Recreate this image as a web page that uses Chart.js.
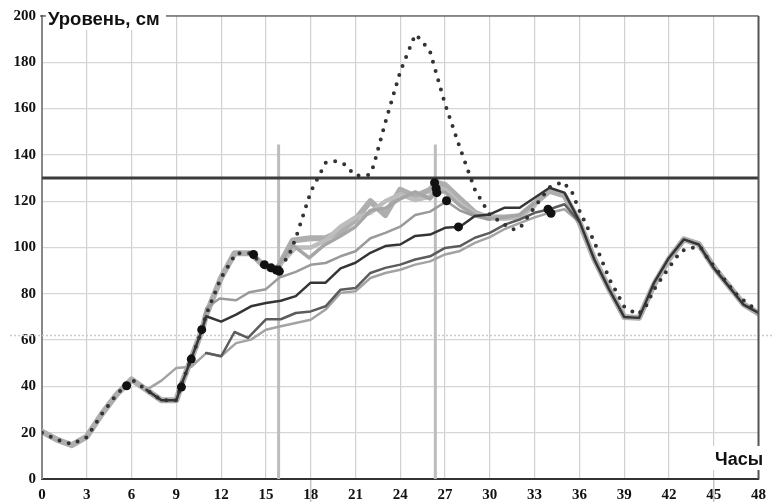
<!DOCTYPE html>
<html><head><meta charset="utf-8">
<script src="https://cdn.jsdelivr.net/npm/chart.js@4.4.0/dist/chart.umd.min.js"></script>
<style>html,body{margin:0;padding:0;background:#fff;}#wrap{width:773px;height:502px;}</style>
</head><body><div id="wrap"><canvas id="c" width="773" height="502"></canvas></div>
<script>
// ---- tick labels ----
const xTickValues = [0,3,6,9,12,15,18,21,24,27,30,33,36,39,42,45,48];
const yTickValues = [0,20,40,60,80,100,120,140,160,180,200];
const titleText = 'Уровень, см';
const xAxisText = 'Часы';

// ---- reference levels ----
const dangerLevel = 130;
const dashedLevel = 62.2;
const refHours = [15.85, 26.35];
const refTop = 144.5;
const dayMarkHours = [18, 45];

// ---- dotted forecast ----
const dotHours  = [0,1,2,3,4,5,6,7,8,9,9.3,10,10.7,11,12,13,14,15,15.7,16.5,17,18,19,19.6,20.2,21,21.9,22.2,23,24,25,25.4,26,27,28,29,30,31.5,32,33,34,34.9,35.5,36,37,38,39,39.9,40.4,41,41.9,42.8,43.4,44.1,44.5,45.5,46.5,47.2,48];
const dotLevels = [20,17,15,18,28,36.5,43,38.5,34,34,40,52,64,71,87,97.5,97.5,91,90,96,104,124,136.6,137.3,136.3,131,131.3,135,154,176,192,189.6,184.5,162,143,125,114,107.8,108.2,117.5,126,128.4,124,116,102.5,86.5,74.5,71,73.9,81.8,90.4,98.4,99.8,100.3,96.2,87.9,79.9,76.1,72.5];

// ---- thick light observed/forecast line ----
const thickHours  = [0,1,2,3,4,5,6,7,8,9,9.3,10,10.7,11,12,12.9,14,14.7,15.2,15.7,16.8,18,19,20,21,22,23,24,25,26,26.4,27,28,29,29.8,31,32,33,34,35,36,37,38,39,40,41,42,43,44,45,46,47,48];
const thickLevels = [20.5,17,14.6,18.3,28,36.5,43,38.5,34,34,40,52,64,71,87,97.5,97.5,93,91,90,103,104,104,107,112,120,114,125,122,125,128,127,121,115,113,113,113.5,119,124.5,122.5,111,95,82,70,69.6,84,95,103.5,101.5,91.5,83.5,75.5,71.5];

// ---- light fan lines ----
const bHours  = [15.7,16.8,17.9,18.9,20,21,22,23,24,25,26,26.4,27,28,29,30,31,32,33];
const bLevels = [91,101,95.5,101,105,109,116,117,121,124,121,124,124,118,114,112.5,113,114,119];
const cHours  = [15.7,17,18,19,20,21,22,23,24,25,26,26.4,27,28,29,30,31,32,33];
const cLevels = [91,100,100,103,109,113,115,120,123,120.5,122,126,125,119,114.5,113,112.5,113,118];
const lg2Hours  = [10.7,11,11.9,13,13.9,15,15.9,17,18,19,20,21,22,23,24,25,26,27.1,28,29,30];
const lg2Levels = [64,73.8,78,77.2,80.7,82,87,89.5,92.5,93.3,96.2,98.4,104,106.3,109,114,115.5,120,116,113.5,112];
const lg1Hours  = [7,8,9,10,11,12,13,14,15,16,17,18,19,20,21,22,23,24,25,26,27,28,29,30,31,32,33,34,35,36];
const lg1Levels = [38.5,42.5,48,48.5,54.4,53,58.7,60.2,64.5,66,67.4,68.8,73.2,80.4,81.1,86.8,89,90.4,92.6,94,97,98.5,102,104.5,108,110.5,113,115,116.5,111];

// ---- darker fan lines ----
const dgHours  = [11,12,12.9,13.8,15,16,17,18,19,20,21,22,23,24,25,26,27,28,29,30,31,32,33,34,35,36];
const dgLevels = [54.4,53,63.5,61,69,69,71.7,72.4,74.6,81.8,82.5,89,91.2,92.6,94.8,96.2,99.8,100.6,104.2,106.3,109.9,112.1,115,116.5,118.7,111];
const d1Hours  = [7,8,9,9.3,10,10.7,11,12,13,14,15,16,17,18,19,20,21,22,23,24,25,26,27,28,29,30,31,32,33,34,35,36,37,38,39,40,41,42,43,44,45,46,47,48];
const d1Levels = [38.5,34,34,40,52,64,70.3,68,71,74.6,76,77,79,84.8,84.8,91,93.4,97.7,100.6,101.3,105,105.6,108.5,109,113.6,114.3,117.2,117.2,121.5,125.8,123.7,111.4,94.8,81.8,70,69.6,84.7,95.5,103.5,101.3,91.2,83.3,75.3,71.7];

// ---- black markers ----
const markHours  = [5.67,9.34,10.0,10.7,14.17,14.9,15.35,15.7,15.9,26.3,26.4,26.45,27.1,27.9,33.9,34.1];
const markLevels = [40.3,39.7,51.8,64.5,97,92.6,91.2,90.3,89.7,128,125.5,123.7,120.2,108.9,116.5,114.8];

const pts = (hs, vs) => hs.map((h, i) => ({x: h, y: vs[i]}));
const line = (label, hs, vs, color, width, extra) => Object.assign({
  label, data: pts(hs, vs), borderColor: color, borderWidth: width,
  pointRadius: 0, fill: false, tension: 0, borderJoinStyle: 'round', borderCapStyle: 'round'
}, extra || {});

const overlay = {
  id: 'overlay',
  beforeDatasetsDraw(chart) {
    const {ctx, chartArea: a, scales: {x, y}} = chart;
    ctx.save();
    let yy = Math.round(y.getPixelForValue(dashedLevel)) + 0.5;
    ctx.strokeStyle = '#cccccc'; ctx.lineWidth = 1.5; ctx.setLineDash([2, 2]);
    ctx.beginPath(); ctx.moveTo(10, yy); ctx.lineTo(chart.width, yy); ctx.stroke();
    ctx.setLineDash([]);
    ctx.strokeStyle = '#bdbdbd'; ctx.lineWidth = 3;
    refHours.forEach(h => {
      const px = x.getPixelForValue(h);
      ctx.beginPath(); ctx.moveTo(px, y.getPixelForValue(0)); ctx.lineTo(px, y.getPixelForValue(refTop)); ctx.stroke();
    });
    const dy = y.getPixelForValue(dangerLevel);
    ctx.strokeStyle = '#3c3c3c'; ctx.lineWidth = 3;
    ctx.beginPath(); ctx.moveTo(a.left, dy); ctx.lineTo(a.right, dy); ctx.stroke();
    ctx.restore();
  },
  afterDraw(chart) {
    const {ctx, chartArea: a, scales: {x, y}} = chart;
    ctx.save();
    ctx.strokeStyle = '#c4c4c4'; ctx.lineWidth = 1.5;
    dayMarkHours.forEach(h => {
      const px = x.getPixelForValue(h);
      ctx.beginPath(); ctx.moveTo(px, a.bottom + 1); ctx.lineTo(px, chart.height); ctx.stroke();
    });
    ctx.strokeStyle = '#333'; ctx.lineWidth = 1.2;
    ctx.beginPath(); ctx.moveTo(a.left - 2, a.top); ctx.lineTo(a.right, a.top); ctx.stroke();
    ctx.strokeStyle = '#555'; ctx.lineWidth = 2;
    ctx.beginPath(); ctx.moveTo(a.right, a.top); ctx.lineTo(a.right, a.bottom); ctx.stroke();
    ctx.fillStyle = '#fff';
    ctx.fillRect(a.left + 4, 0, 120, 30);
    ctx.fillStyle = '#111';
    ctx.font = 'bold 18.5px "Liberation Sans", Arial, sans-serif';
    ctx.textBaseline = 'alphabetic'; ctx.textAlign = 'left';
    ctx.fillText(titleText, a.left + 6, 25);
    ctx.fillStyle = '#fff';
    ctx.fillRect(713, 446, 52, 24);
    ctx.fillStyle = '#111';
    ctx.font = 'bold 18px "Liberation Sans", Arial, sans-serif';
    ctx.fillText(xAxisText, 715, 465);
    ctx.restore();
  }
};

const tickFont = {family: '"Liberation Serif", "Times New Roman", serif', weight: 'bold', size: 15};

new Chart(document.getElementById('c'), {
  type: 'line',
  data: {
    datasets: [
      {label: 'marks', data: pts(markHours, markLevels), showLine: false, pointRadius: 4.5,
       pointBackgroundColor: '#111', pointBorderColor: '#111', pointBorderWidth: 0},
      line('forecast', dotHours, dotLevels, '#333333', 4, {borderDash: [0, 9.6]}),
      line('d1', d1Hours, d1Levels, '#353535', 2.5),
      line('dg', dgHours, dgLevels, '#5c5c5c', 2.5),
      line('lg1', lg1Hours, lg1Levels, '#a3a3a3', 2.5),
      line('lg2', lg2Hours, lg2Levels, '#9a9a9a', 2.5),
      line('b', bHours, bLevels, '#a6a6a6', 3.5),
      line('c', cHours, cLevels, '#bdbdbd', 4.5),
      line('thick', thickHours, thickLevels, '#aeaeae', 6)
    ]
  },
  options: {
    responsive: false, animation: false, events: [],
    layout: {padding: {top: 16, right: 12, left: 0, bottom: 0}},
    plugins: {legend: {display: false}, tooltip: {enabled: false}, title: {display: false}},
    scales: {
      x: {
        type: 'linear', min: 0, max: 48,
        afterBuildTicks: s => { s.ticks = xTickValues.map(v => ({value: v})); },
        afterFit: s => { s.height = 23; },
        grid: {color: '#d0d0d0', lineWidth: 1.2, drawTicks: false},
        border: {color: '#333', width: 2},
        ticks: {font: tickFont, color: '#111', padding: 7, maxRotation: 0, autoSkip: false}
      },
      y: {
        min: 0, max: 200,
        afterBuildTicks: s => { s.ticks = yTickValues.map(v => ({value: v})); },
        afterFit: s => { s.width = 42; },
        grid: {color: '#d6d6d6', lineWidth: 1.2, drawTicks: false},
        border: {color: '#888', width: 2},
        ticks: {font: tickFont, color: '#111', padding: 6}
      }
    }
  },
  plugins: [overlay]
});
</script>
</body></html>
